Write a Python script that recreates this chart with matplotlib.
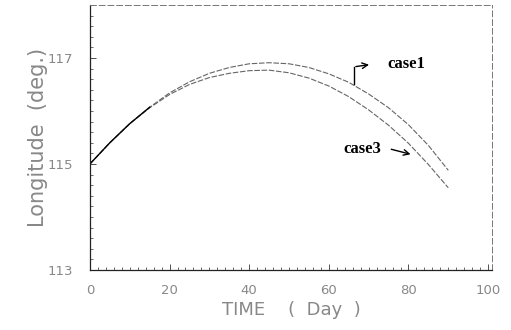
import numpy as np
import matplotlib
matplotlib.use("Agg")
from matplotlib import pyplot as plt
from matplotlib.ticker import MultipleLocator

# DATA ########################################################################

days = [0, 5, 10, 15, 20, 25, 30, 35, 40, 45, 50, 55, 60, 65, 70, 75, 80, 85, 90]
case1 = [115.00, 115.40, 115.76, 116.07, 116.34, 116.55, 116.71, 116.82, 116.89,
         116.91, 116.89, 116.82, 116.70, 116.54, 116.32, 116.06, 115.74, 115.35, 114.88]
case3 = [115.00, 115.40, 115.76, 116.06, 116.31, 116.50, 116.63, 116.71, 116.76,
         116.77, 116.72, 116.62, 116.47, 116.27, 116.02, 115.73, 115.39, 114.99, 114.55]

xticks = [0, 20, 40, 60, 80, 100]
yticks = [113, 115, 117]

# PLOT ########################################################################

fig = plt.figure(figsize=(5.11, 3.30), dpi=100)
ax = fig.add_axes([0.176, 0.182, 0.787, 0.803])

ax.plot(days, case1, color="#666666", lw=0.8, ls=(0, (5, 1.5)))
ax.plot(days, case3, color="#666666", lw=0.8, ls=(0, (5, 1.5)))
# early part looks solid black
ax.plot(days[:4], case1[:4], color="black", lw=1.0)

ax.set_xlim(0, 101)
ax.set_ylim(113, 118)
ax.set_xticks(xticks)
ax.set_yticks(yticks)
ax.set_xticklabels([str(t) for t in xticks])
ax.set_yticklabels([str(t) for t in yticks])
ax.xaxis.set_minor_locator(MultipleLocator(2))
ax.yaxis.set_minor_locator(MultipleLocator(0.2))
ax.tick_params(which="both", direction="in", color="#333333")
ax.tick_params(which="major", length=4, width=0.6, labelsize=9.5,
               labelcolor="#888888")
ax.tick_params(axis="x", which="major", pad=10)
ax.tick_params(axis="y", which="major", pad=12)
ax.tick_params(which="minor", length=2.5, width=0.5)

for side in ["left", "bottom"]:
    ax.spines[side].set_color("#222222")
    ax.spines[side].set_linewidth(0.9)
for side in ["top", "right"]:
    ax.spines[side].set_color("#777777")
    ax.spines[side].set_linewidth(0.7)
    ax.spines[side].set_linestyle((0, (6, 3)))

ax.set_xlabel("TIME    (  Day  )", fontsize=13, color="#888888", labelpad=3)
ax.set_ylabel("Longitude  (deg.)", fontsize=15, color="#888888", labelpad=0)

# annotations
ax.plot([66.3, 66.3], [116.5, 116.83], color="black", lw=1.0)
ax.annotate("", xy=(70.8, 116.88), xytext=(66.1, 116.83),
            arrowprops=dict(arrowstyle="->", color="black", lw=1.0))
ax.text(74.8, 116.88, "case1", fontsize=12, fontweight="bold",
        family="Liberation Serif", va="center", ha="left")

ax.text(68.3, 115.29, "case3", fontsize=12, fontweight="bold",
        family="Liberation Serif", va="center", ha="center")
ax.annotate("", xy=(81.2, 115.17), xytext=(75.0, 115.29),
            arrowprops=dict(arrowstyle="->", color="black", lw=1.0))

fig.savefig("out.png", dpi=100)
